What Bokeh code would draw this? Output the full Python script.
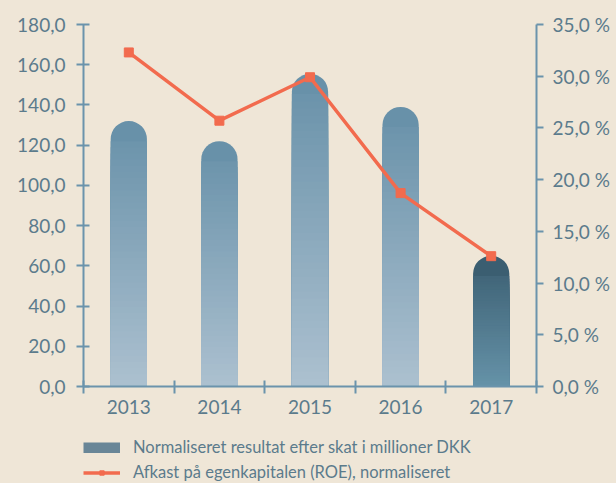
import numpy as np
from bokeh.plotting import figure
from bokeh.layouts import column
from bokeh.models import (Range1d, LinearAxis, FixedTicker, CustomJSTickFormatter,
                          ColumnDataSource, Legend, LegendItem)
from bokeh.embed import file_html
from bokeh.resources import INLINE

# ---- data ----
years = [2013, 2014, 2015, 2016, 2017]
result = [132.0, 122.0, 155.5, 139.0, 65.0]          # Normaliseret resultat (mio. DKK)
roe = [32.3, 25.7, 29.9, 18.7, 12.6]                  # ROE, %
left_ticks = [0, 20, 40, 60, 80, 100, 120, 140, 160, 180]
right_ticks = [0, 5, 10, 15, 20, 25, 30, 35]
label_bar = "Normaliseret resultat efter skat i millioner DKK"
label_line = "Afkast på egenkapitalen (ROE), normaliseret"

# ---- styles ----
BG = "#efe6d7"
TEXT = "#5b7b8c"
AXIS = "#6b93ac"
ORANGE = "#f26b4e"
FONT = "Lato"
grad_normal = ("#adc1d0", "#6891a9")   # bottom, top
grad_last = ("#6693a9", "#3b5e71")
W = 616
H_MAIN = 424
H_LEG = 59


def mix(c1, c2, t):
    a = [int(c1[i:i + 2], 16) for i in (1, 3, 5)]
    b = [int(c2[i:i + 2], 16) for i in (1, 3, 5)]
    return "#" + "".join("%02x" % round(a[i] + (b[i] - a[i]) * t) for i in range(3))


p = figure(width=W, height=H_MAIN, x_range=Range1d(2012.5, 2017.5), y_range=Range1d(0, 180),
           output_backend="svg", toolbar_location=None,
           min_border_left=83, min_border_right=80, min_border_top=24, min_border_bottom=38,
           background_fill_color=BG, border_fill_color=BG, outline_line_color=None)
p.grid.visible = False
p.extra_y_ranges = {"roe": Range1d(0, 35)}

# ---- bars (rounded caps + gradient slices) ----
cap_src = ColumnDataSource(dict(
    x=years, top=result,
    color=[(grad_last if i == len(years) - 1 else grad_normal)[1] for i in range(len(years))]))
p.vbar(x="x", top="top", bottom=0, width=0.4, source=cap_src, fill_color="color",
       line_color=None, border_radius=(18, 18, 0, 0))

N = 40
sx, st, sc = [], [], []
for i, (yr, v) in enumerate(zip(years, result)):
    g = grad_last if i == len(years) - 1 else grad_normal
    lim = v - 10
    for k in range(N):
        t = lim * (1 - k / N)
        sx.append(yr)
        st.append(t)
        sc.append(mix(g[0], g[1], t / v))
slice_src = ColumnDataSource(dict(x=sx, top=st, color=sc))
p.vbar(x="x", top="top", bottom=0, width=0.4, source=slice_src,
       fill_color="color", line_color=None)

# ---- ROE line ----
p.line(years, roe, y_range_name="roe", line_color=ORANGE, line_width=3.5)
p.scatter(years, roe, y_range_name="roe", marker="square", size=9,
          fill_color=ORANGE, line_color=ORANGE)


# ---- axes ----
def style_axis(ax):
    ax.axis_line_color = AXIS
    ax.axis_line_width = 2
    ax.major_tick_line_color = AXIS
    ax.major_tick_line_width = 2
    ax.minor_tick_line_color = AXIS
    ax.minor_tick_line_width = 2
    ax.major_label_text_font = FONT
    ax.major_label_text_font_size = "19px"
    ax.major_label_text_color = TEXT


yl = p.yaxis[0]
style_axis(yl)
yl.ticker = FixedTicker(ticks=left_ticks)
yl.formatter = CustomJSTickFormatter(code="return tick.toFixed(1).replace('.', ',');")
yl.major_tick_in = 6
yl.major_tick_out = 7
yl.minor_tick_in = 0
yl.minor_tick_out = 0
yl.major_label_standoff = 11

yr_ax = LinearAxis(y_range_name="roe", ticker=FixedTicker(ticks=right_ticks),
                   formatter=CustomJSTickFormatter(code="return tick.toFixed(1).replace('.', ',') + ' %';"))
style_axis(yr_ax)
yr_ax.major_tick_in = 0
yr_ax.major_tick_out = 7
yr_ax.minor_tick_in = 0
yr_ax.minor_tick_out = 0
yr_ax.major_label_standoff = 9
p.add_layout(yr_ax, "right")

xa = p.xaxis[0]
style_axis(xa)
xa.ticker = FixedTicker(ticks=years, minor_ticks=[y - 0.5 for y in years] + [years[-1] + 0.5])
xa.formatter = CustomJSTickFormatter(code="return tick.toFixed(0);")
xa.major_tick_in = 0
xa.major_tick_out = 0
xa.minor_tick_in = 6
xa.minor_tick_out = 7
xa.major_label_standoff = 6

# ---- legend figure (frame aligned with the main plot's frame) ----
lg = figure(width=W, height=H_LEG, x_range=Range1d(0, 1), y_range=Range1d(0, 1),
            output_backend="svg", toolbar_location=None,
            min_border_left=0, min_border_right=0, min_border_top=0, min_border_bottom=0,
            background_fill_color=BG, border_fill_color=BG, outline_line_color=None)
lg.axis.visible = False
lg.grid.visible = False
# proxy glyphs for the legend, placed outside the visible ranges
leg_bar = lg.line(x=[5, 6], y=[5, 5], line_color=mix(grad_normal[0], grad_last[1], 0.6),
                  line_width=11, line_cap="butt")
leg_line = lg.line(x=[5, 6], y=[5, 5], line_color=ORANGE, line_width=3.5)
leg_pts = lg.scatter(x=[5], y=[5], marker="square", size=9, fill_color=ORANGE, line_color=ORANGE)
legend = Legend(items=[LegendItem(label=label_bar, renderers=[leg_bar]),
                       LegendItem(label=label_line, renderers=[leg_line, leg_pts])],
                location=(0, 1), orientation="vertical",
                background_fill_alpha=0, border_line_alpha=0,
                label_text_font=FONT, label_text_font_size="16.5px", label_text_color=TEXT,
                glyph_width=37, glyph_height=11, label_standoff=13, spacing=5,
                padding=0, margin=0, label_height=19)
lg.add_layout(legend)

layout = column(p, lg, spacing=0)
html = file_html(layout, INLINE)
html = html.replace("<head>", "<head><style>html,body{background:%s;}</style>" % BG, 1)
open("out.html", "w").write(html)
